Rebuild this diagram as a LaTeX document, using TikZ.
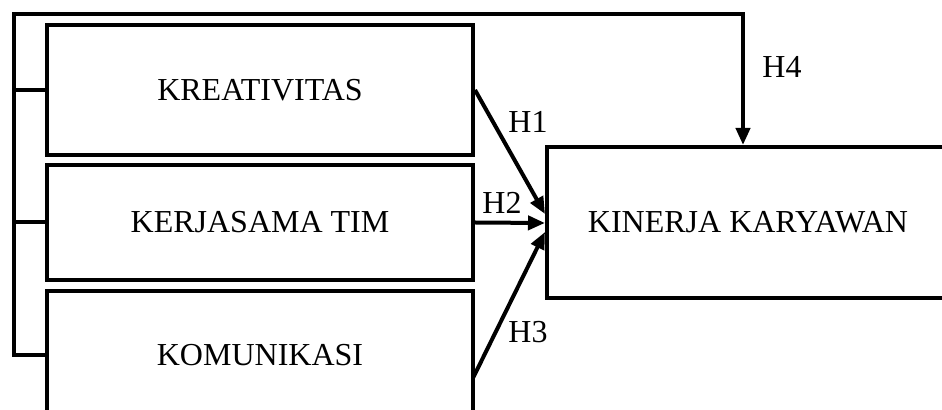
\documentclass[tikz,border=0pt]{standalone}
\usepackage{fontspec}
\setmainfont{Liberation Serif}
\usetikzlibrary{arrows.meta}
\begin{document}
\begin{tikzpicture}[x=0.5pt,y=-0.5pt,
  line/.style={draw=black,line width=2pt},
  arr/.style={-{Triangle[length=8.5pt,width=7pt]}},
  varbox/.style={line, rectangle, inner sep=0pt, font=\fontsize{16}{19}\selectfont},
  hlab/.style={inner sep=0pt, font=\fontsize{16}{19}\selectfont}]
\useasboundingbox (0,0) rectangle (942,410);
\clip (0,0) rectangle (942,410);
\node[varbox, minimum width=213pt, minimum height=65pt] (box1) at (260,90) {KREATIVITAS};
\node[varbox, minimum width=213pt, minimum height=57.5pt] (box2) at (260,222.5) {KERJASAMA TIM};
\node[varbox, minimum width=213pt, minimum height=64pt] (box3) at (260,355) {KOMUNIKASI};
\node[varbox, minimum width=201pt, minimum height=75.5pt] (target) at (748,222.5) {KINERJA KARYAWAN};
\coordinate (bx) at (14,0);
\coordinate (top) at (0,14);
\coordinate (h4x) at (743,0);
\coordinate (t1) at (545,214);
\coordinate (t2) at (545,223);
\coordinate (t3) at (545,232);
\coordinate (s3) at (473,378);
% bracket and H4
\draw[line,arr] (box3.west) -- (box3.west -| bx) -- (bx |- top) -- (h4x |- top) -- (target.north -| h4x);
\draw[line] (box1.west) -- (box1.west -| bx);
\draw[line] (box2.west) -- (box2.west -| bx);
% H1-H3
\draw[line,arr] (box1.east) -- (t1);
\draw[line,arr] (box2.east) -- (t2);
\draw[line,arr] (s3) -- (t3);
\node[hlab] (h1) at (528,122) {H1};
\node[hlab] (h2) at (502,203) {H2};
\node[hlab] (h3) at (528,332) {H3};
\node[hlab] (h4) at (782,67) {H4};
\end{tikzpicture}
\end{document}
